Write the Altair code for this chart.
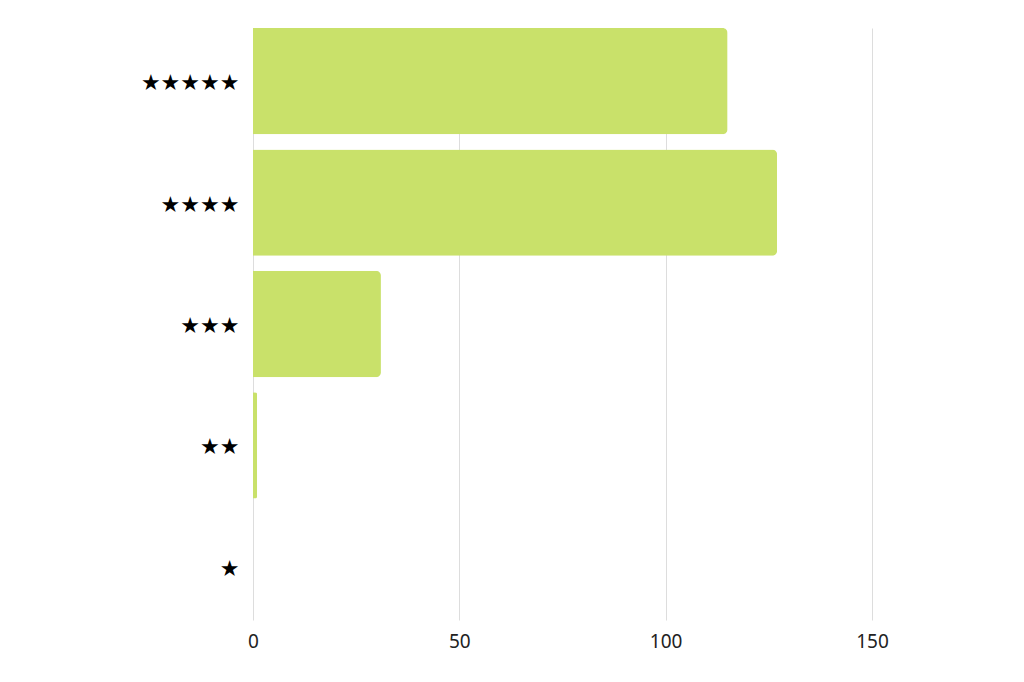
import altair as alt
import pandas as pd

ratings = ["★★★★★", "★★★★", "★★★", "★★", "★"]
counts = [115, 127, 31, 1, 0]

df = pd.DataFrame({"rating": ratings, "count": counts})

chart = alt.Chart(df).mark_bar(
    color="#C9E16A", cornerRadiusEnd=5
).encode(
    x=alt.X("count:Q", scale=alt.Scale(domain=[0, 150], nice=False),
            axis=alt.Axis(values=[0, 50, 100, 150], title=None, domain=False, ticks=False,
                          grid=True, gridColor="#dddddd", labelFontSize=19, labelFlush=False,
                          labelFont="Noto Sans", labelColor="#222222", labelPadding=12)),
    y=alt.Y("rating:N", sort=ratings,
            scale=alt.Scale(paddingInner=0.124, paddingOuter=0),
            axis=alt.Axis(title=None, domain=False, ticks=False, grid=False,
                          labelFontSize=22, labelFont="DejaVu Sans", labelColor="#000000",
                          labelPadding=14, labelOffset=2)),
).properties(
    width=619, height=592,
    padding={"left": 245, "top": 20, "right": 60, "bottom": 50},
    autosize=alt.AutoSizeParams(type="none"),
    background="#ffffff",
).configure_view(stroke="transparent")

chart.save("out.html", embed_options={"renderer": "svg", "actions": False})
